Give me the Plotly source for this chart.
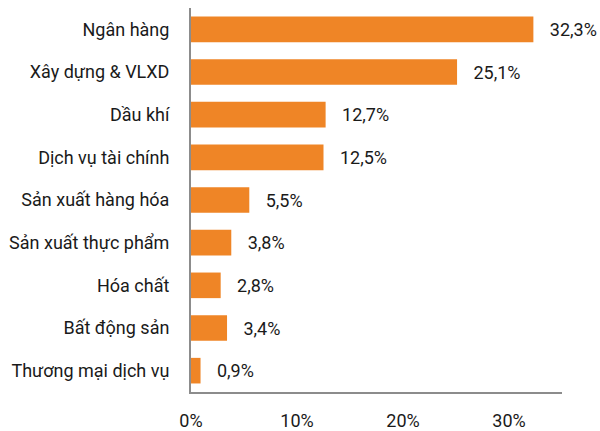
import plotly.graph_objects as go

categories = ["Ngân hàng", "Xây dựng & VLXD", "Dầu khí", "Dịch vụ tài chính",
              "Sản xuất hàng hóa", "Sản xuất thực phẩm", "Hóa chất",
              "Bất động sản", "Thương mại dịch vụ"]
values = [32.3, 25.1, 12.7, 12.5, 5.5, 3.8, 2.8, 3.4, 0.9]
tick_vals = [0, 10, 20, 30]
tick_text = ["0%", "10%", "20%", "30%"]

labels = ["   " + f"{v:.1f}%".replace(".", ",") for v in values]

FONT = "Roboto, Liberation Sans Narrow, sans-serif"
FS = 18

fig = go.Figure()
fig.add_trace(go.Bar(
    y=categories, x=values, orientation="h",
    marker=dict(color="#EF8526", line=dict(width=0)),
    width=0.6,
    text=labels, textposition="outside", cliponaxis=False,
    constraintext="none",
    textfont=dict(family=FONT, size=FS, color="#1a1a1a"),
    hoverinfo="skip",
))

fig.update_layout(
    width=600, height=431,
    margin=dict(l=191, r=38, t=8, b=39),
    paper_bgcolor="white", plot_bgcolor="white",
    showlegend=False,
    font=dict(family=FONT, size=FS, color="#1a1a1a"),
    bargap=0.4,
)
fig.update_xaxes(
    range=[0, 35], tickvals=tick_vals, ticktext=tick_text,
    showgrid=False, zeroline=False, automargin=False,
    showline=True, linecolor="#8c8c8c", linewidth=2,
    ticks="", ticklabelstandoff=11,
    tickfont=dict(family=FONT, size=FS, color="#1a1a1a"),
)
fig.update_yaxes(
    autorange="reversed", showgrid=False, zeroline=False, automargin=False,
    showline=True, linecolor="#8c8c8c", linewidth=2,
    ticks="", ticklabelstandoff=16,
    tickfont=dict(family=FONT, size=FS, color="#1a1a1a"),
)

fig.write_html("out.html")
